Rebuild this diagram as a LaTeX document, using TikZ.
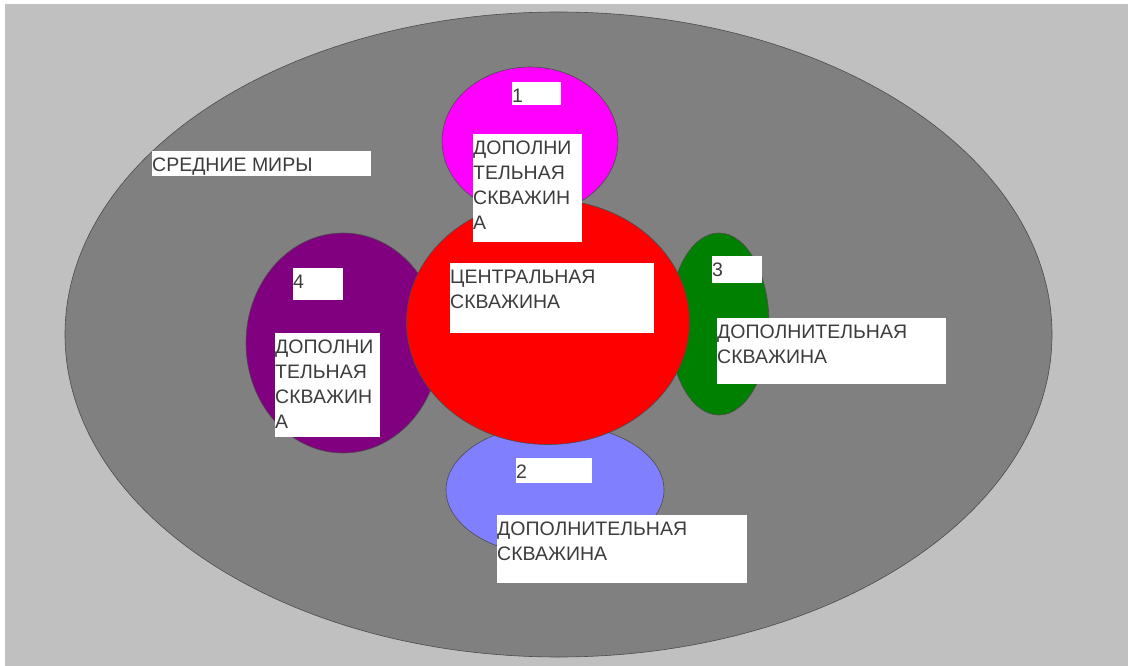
\documentclass[tikz,border=0pt]{standalone}
\usepackage{fontspec}
\setmainfont{Liberation Sans}
\usepackage{tikz}
\usetikzlibrary{shapes.geometric}
\definecolor{framewhite}{RGB}{255,255,255}
\definecolor{bggray}{RGB}{192,192,192}
\definecolor{worldgray}{RGB}{128,128,128}
\definecolor{wellmagenta}{RGB}{255,0,255}
\definecolor{wellred}{RGB}{255,0,0}
\definecolor{wellpurple}{RGB}{128,0,128}
\definecolor{wellgreen}{RGB}{0,128,0}
\definecolor{wellblue}{RGB}{128,128,255}
\definecolor{tagtext}{RGB}{60,60,60}
\newcommand{\welltag}[3]{\parbox[t][#2][t]{#1}{\rule{0pt}{20.5pt}#3}}
\tikzset{
  % 椭圆区域
  zone/.style={ellipse, draw=black!70, line width=0.6pt, inner sep=0pt},
  % 白色标签
  tag/.style={
    fill=white,
    inner sep=0pt,
    anchor=north west,
    text=tagtext,
    font=\fontsize{19.5}{25}\selectfont
  },
}
\begin{document}
\begin{tikzpicture}[x=1pt, y=-1pt]
    \useasboundingbox (0,0) rectangle (1128,666);
    \fill[framewhite] (0,0) rectangle (1128,666);
    \fill[bggray] (5,4) rectangle (1128,666);

    % world
    \node[zone, fill=worldgray, minimum width=987pt, minimum height=645pt] (world) at (558.5,334.5) {};

    % side wells
    \node[zone, fill=wellmagenta, minimum width=176pt, minimum height=148pt] (well1) at (530,141) {};
    \node[zone, fill=wellpurple, minimum width=194pt, minimum height=220pt] (well4) at (343,343) {};
    \node[zone, fill=wellgreen, minimum width=100pt, minimum height=182pt] (well3) at (719,324) {};
    \node[zone, fill=wellblue, minimum width=218pt, minimum height=132pt] (well2) at (555,490) {};

    % central well
    \node[zone, fill=wellred, minimum width=283pt, minimum height=245pt] (center) at (548,322) {};

    % labels
    \node[tag] (worldtag) at (152,151) {\welltag{219pt}{25pt}{СРЕДНИЕ МИРЫ}};
    \node[tag] (num1) at (512,82) {\welltag{49pt}{23pt}{1}};
    \node[tag] (tag1) at (473,134) {\welltag{109pt}{108pt}{ДОПОЛНИ\\ТЕЛЬНАЯ\\СКВАЖИН\\А}};
    \node[tag] (centertag) at (450,263) {\welltag{204pt}{70pt}{ЦЕНТРАЛЬНАЯ\\СКВАЖИНА}};
    \node[tag] (num3) at (712,256) {\welltag{50pt}{27pt}{3}};
    \node[tag] (tag3) at (717,318) {\welltag{229pt}{66pt}{ДОПОЛНИТЕЛЬНАЯ\\СКВАЖИНА}};
    \node[tag] (num4) at (293,268) {\welltag{50pt}{32pt}{4}};
    \node[tag] (tag4) at (275,333) {\welltag{105pt}{104pt}{ДОПОЛНИ\\ТЕЛЬНАЯ\\СКВАЖИН\\А}};
    \node[tag] (num2) at (516,458) {\welltag{76pt}{25pt}{2}};
    \node[tag] (tag2) at (497,515) {\welltag{250pt}{68pt}{ДОПОЛНИТЕЛЬНАЯ\\СКВАЖИНА}};
\end{tikzpicture}
\end{document}
